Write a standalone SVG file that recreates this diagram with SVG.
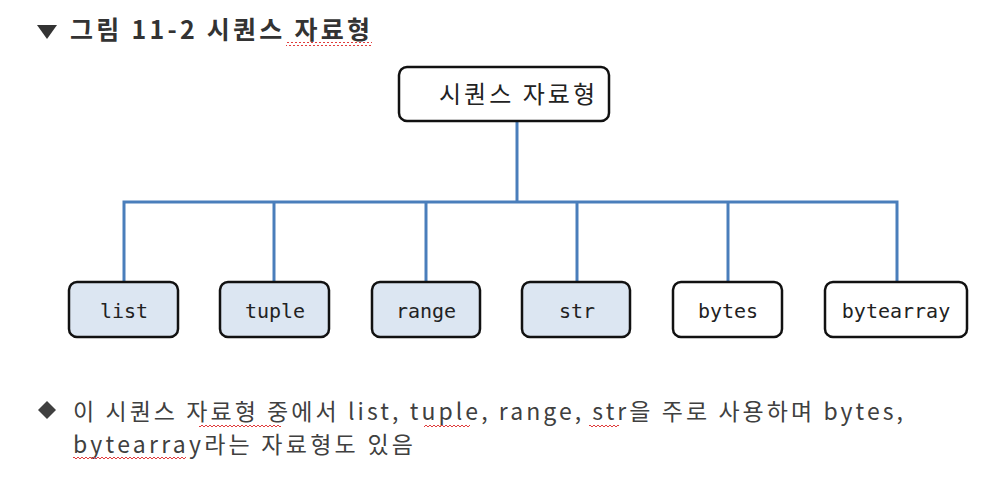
<svg xmlns="http://www.w3.org/2000/svg" width="1000" height="501" viewBox="0 0 1000 501">
<defs>
<style>
.box{stroke:#111;stroke-width:2.5;}
.hl{fill:#dce6f2;}
.pl{fill:#ffffff;}
.lbl{font-family:"DejaVu Sans Mono","Liberation Mono",monospace;font-size:20px;fill:#222;text-anchor:middle;}
.root{font-family:"Noto Sans CJK KR","Noto Sans",sans-serif;font-size:24px;fill:#222;}
.conn{stroke:#4a7ebb;stroke-width:3;fill:none;}
.title{font-family:"Noto Sans CJK KR","Noto Sans",sans-serif;font-size:25px;font-weight:bold;fill:#333;}
.body{font-family:"Noto Sans CJK KR","Noto Sans",sans-serif;font-size:23px;fill:#404040;}
</style>
<pattern id="wv" width="4" height="4" patternUnits="userSpaceOnUse"><path d="M0 3 L2 1 L4 3" stroke="#e03c3c" stroke-width="1" fill="none"/></pattern>
</defs>
<rect width="1000" height="501" fill="#ffffff"/>
<g id="title">
<path d="M37 25 L57 25 L47 39 Z" fill="#333"/>
<text class="title" x="70" y="39" textLength="300" lengthAdjust="spacing">그림 11-2 시퀀스 자료형</text>
<rect x="286" y="42" width="86" height="4" fill="url(#wv)"/>
</g>
<g id="connectors">
<path class="conn" d="M517 121 V202"/>
<path class="conn" d="M124 282 V202 H897 V282"/>
<path class="conn" d="M274 202 V282"/>
<path class="conn" d="M426 202 V282"/>
<path class="conn" d="M577 202 V282"/>
<path class="conn" d="M728 202 V282"/>
</g>
<g id="root">
<rect class="box pl" x="399" y="67" width="210" height="54" rx="8"/>
<text class="root" x="439" y="103" textLength="156" lengthAdjust="spacing">시퀀스 자료형</text>
</g>
<g id="list">
<rect class="box hl" x="69" y="282" width="109" height="55" rx="8"/>
<text class="lbl" x="124" y="318">list</text>
</g>
<g id="tuple">
<rect class="box hl" x="220" y="282" width="109" height="55" rx="8"/>
<text class="lbl" x="275" y="318">tuple</text>
</g>
<g id="range">
<rect class="box hl" x="372" y="282" width="108" height="55" rx="8"/>
<text class="lbl" x="426" y="318">range</text>
</g>
<g id="str">
<rect class="box hl" x="522" y="282" width="108" height="55" rx="8"/>
<text class="lbl" x="577" y="318">str</text>
</g>
<g id="bytes">
<rect class="box pl" x="673" y="282" width="109" height="55" rx="8"/>
<text class="lbl" x="728" y="318">bytes</text>
</g>
<g id="bytearray">
<rect class="box pl" x="825" y="282" width="142" height="55" rx="8"/>
<text class="lbl" x="896" y="318">bytearray</text>
</g>
<g id="note">
<path d="M47 401 L56 410 L47 419 L38 410 Z" fill="#404040"/>
<text class="body" x="73" y="420" textLength="830" lengthAdjust="spacing">이 시퀀스 자료형 중에서 list, tuple, range, str을 주로 사용하며 bytes,</text>
<text class="body" x="73" y="453" textLength="340" lengthAdjust="spacing">bytearray라는 자료형도 있음</text>
<rect x="199" y="423" width="82" height="4" fill="url(#wv)"/>
<rect x="424" y="423" width="46" height="4" fill="url(#wv)"/>
<rect x="589" y="423" width="30" height="4" fill="url(#wv)"/>
<rect x="73" y="456" width="113" height="4" fill="url(#wv)"/>
</g>
</svg>
